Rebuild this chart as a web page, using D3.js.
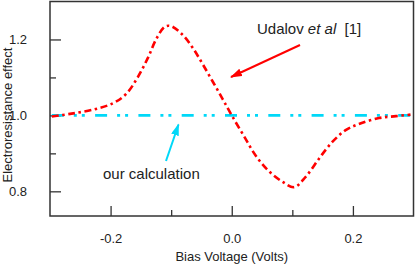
<!DOCTYPE html>
<html>
<head>
<meta charset="utf-8">
<script src="https://cdn.jsdelivr.net/npm/d3@7"></script>
<style>
  body { margin: 0; background: #fff; }
  text { font-family: "Liberation Sans", Arial, Helvetica, sans-serif; fill: #222; }
</style>
</head>
<body>
<script>
// values
let udalovBias = [-0.297, -0.267, -0.229, -0.196, -0.174, -0.155, -0.138, -0.124, -0.110, -0.100,
                  -0.081, -0.064, -0.048, -0.031, -0.015, 0.0, 0.020, 0.040, 0.062,
                  0.084, 0.103, 0.122, 0.144, 0.166, 0.188, 0.211, 0.243, 0.271, 0.295];
let udalovEffect = [0.997, 1.004, 1.015, 1.032, 1.057, 1.101, 1.153, 1.203, 1.234, 1.235,
                    1.212, 1.177, 1.135, 1.088, 1.043, 1.0, 0.946, 0.893, 0.852,
                    0.825, 0.811, 0.838, 0.886, 0.930, 0.961, 0.978, 0.993, 0.998, 1.002];
let calcBias = [-0.3, 0.3];
let calcEffect = [1.0, 1.0];

let xMajor = [-0.2, 0.0, 0.2];
let xMinor = [-0.1, 0.1];
let yMajor = [0.8, 1.0, 1.2];
let yMinor = [0.9, 1.1];

let W = 416, H = 265;
let pL = 50, pR = 413.5, pT = 1.5, pB = 216;

let svg = d3.select('body')
    .append('svg')
        .attr('width', W)
        .attr('height', H);

let x = d3.scaleLinear().domain([-0.3, 0.3]).range([pL, pR]);
let y = d3.scaleLinear().domain([0.735, 1.3]).range([pB, pT]);

// plain hyphen for negatives, like the original
let fmt = d => d.toFixed(1);

// ticks point inward
function AddXTicks(vals, len, labels) {
    let ax = d3.axisBottom(x).tickValues(vals).tickSize(-len).tickSizeOuter(0)
        .tickPadding(len + 8)
        .tickFormat(labels ? fmt : '');
    let g = svg.append('g').attr('transform', 'translate(0,' + pB + ')').call(ax);
    g.select('.domain').remove();
    g.selectAll('line').attr('stroke', '#333').attr('stroke-width', 1.3);
    g.selectAll('text').attr('font-size', 13).attr('fill', '#222')
        .attr('font-family', '"Liberation Sans", Arial, sans-serif');
}
function AddYTicks(vals, len, labels) {
    let ax = d3.axisLeft(y).tickValues(vals).tickSize(-len).tickSizeOuter(0)
        .tickPadding(len + 12)
        .tickFormat(labels ? fmt : '');
    let g = svg.append('g').attr('transform', 'translate(' + pL + ',0)').call(ax);
    g.select('.domain').remove();
    g.selectAll('line').attr('stroke', '#333').attr('stroke-width', 1.3);
    g.selectAll('text').attr('font-size', 13).attr('fill', '#222')
        .attr('font-family', '"Liberation Sans", Arial, sans-serif');
}
AddXTicks(xMajor, 10, true);
AddXTicks(xMinor, 6, false);
AddYTicks(yMajor, 11, true);
AddYTicks(yMinor, 6, false);

// frame
svg.append('rect')
    .attr('x', pL).attr('y', pT)
    .attr('width', pR - pL).attr('height', pB - pT)
    .attr('fill', 'none').attr('stroke', '#333').attr('stroke-width', 1.5);

let line = d3.line().x(d => x(d[0])).y(d => y(d[1])).curve(d3.curveCatmullRom);

svg.append('path')
    .datum(d3.zip(calcBias, calcEffect))
    .attr('d', line)
    .attr('fill', 'none')
    .attr('stroke', '#00d8f8')
    .attr('stroke-width', 2.7)
    .attr('stroke-dasharray', '12,10,3,5,3,10.3')
    .attr('stroke-dashoffset', 41.5);

svg.append('path')
    .datum(d3.zip(udalovBias, udalovEffect))
    .attr('d', line)
    .attr('fill', 'none')
    .attr('stroke', '#f00')
    .attr('stroke-width', 2.6)
    .attr('stroke-dasharray', '7,3.5,2.5,3.5');

// arrows
let defs = svg.append('defs');
function AddMarker(id, col) {
    defs.append('marker')
        .attr('id', id)
        .attr('viewBox', '0 0 12 8')
        .attr('refX', 11).attr('refY', 4)
        .attr('markerWidth', 12).attr('markerHeight', 8)
        .attr('markerUnits', 'userSpaceOnUse')
        .attr('orient', 'auto')
      .append('path')
        .attr('d', 'M0,0 L12,4 L0,8 Z')
        .attr('fill', col);
}
AddMarker('redHead', '#f00');
AddMarker('cyanHead', '#00d8f8');

svg.append('line')
    .attr('x1', 300).attr('y1', 45).attr('x2', 231).attr('y2', 77)
    .attr('stroke', '#f00').attr('stroke-width', 2)
    .attr('marker-end', 'url(#redHead)');
svg.append('line')
    .attr('x1', 166).attr('y1', 161).attr('x2', 178.5).attr('y2', 124.5)
    .attr('stroke', '#00d8f8').attr('stroke-width', 2)
    .attr('marker-end', 'url(#cyanHead)');

// annotations
let lab = svg.append('text')
    .attr('x', 257).attr('y', 34)
    .attr('font-size', 15);
lab.append('tspan').text('Udalov ');
lab.append('tspan').attr('font-style', 'italic').text('et al');
lab.append('tspan').attr('xml:space', 'preserve').text('  [1]');

svg.append('text')
    .attr('x', 103).attr('y', 178.5)
    .attr('font-size', 15)
    .text('our calculation');

// axis titles
svg.append('text')
    .attr('x', (pL + pR) / 2).attr('y', 261)
    .attr('text-anchor', 'middle')
    .attr('font-size', 13)
    .text('Bias Voltage (Volts)');
svg.append('text')
    .attr('transform', 'translate(12,115) rotate(-90)')
    .attr('text-anchor', 'middle')
    .attr('font-size', 13)
    .text('Electroresistance effect');
</script>
</body>
</html>
